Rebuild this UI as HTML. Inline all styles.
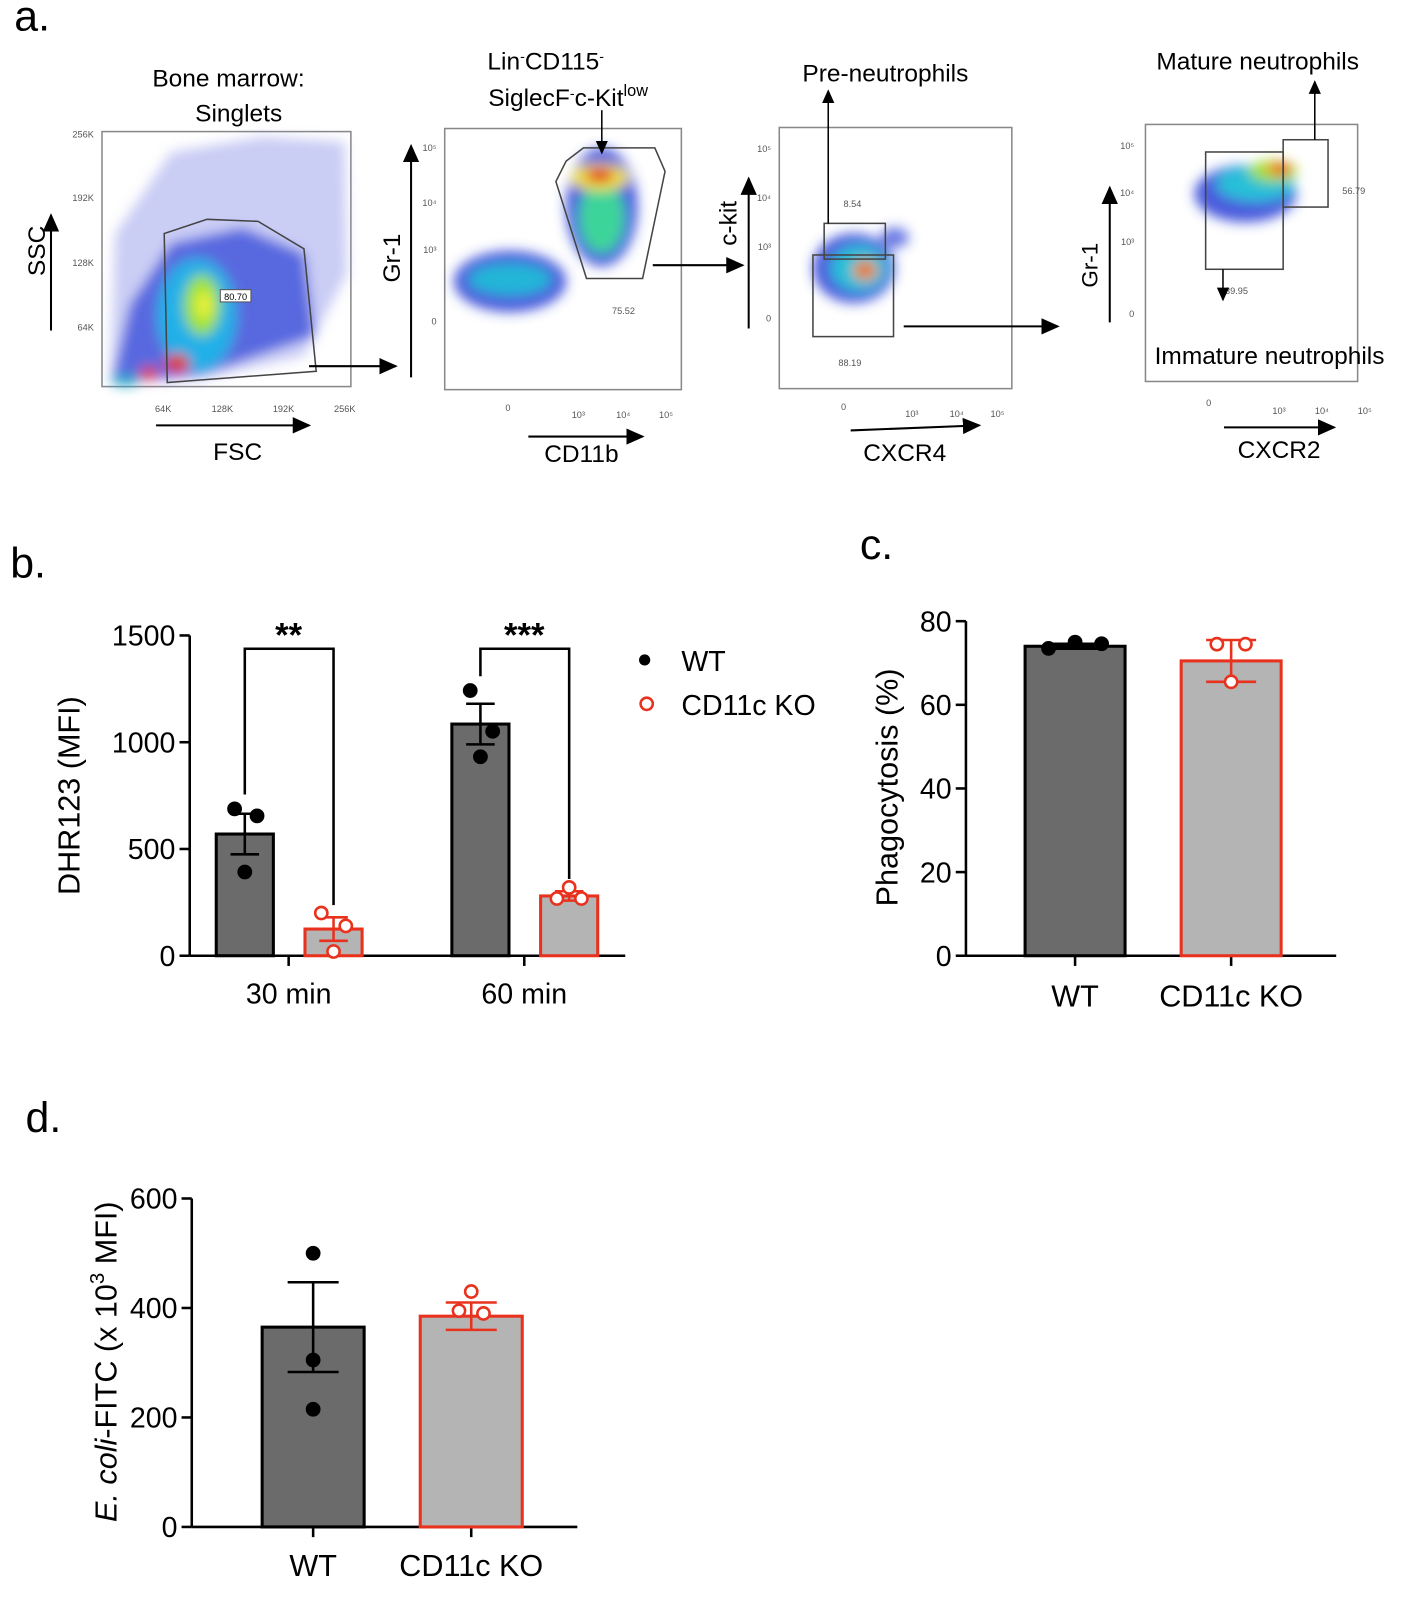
<!DOCTYPE html>
<html><head><meta charset="utf-8">
<style>
html,body{margin:0;padding:0;background:#fff;}
svg{display:block;font-family:"Liberation Sans",Arial,sans-serif;}
</style></head>
<body>
<svg id="fig" width="1423" height="1600" viewBox="0 0 1423 1600" xmlns="http://www.w3.org/2000/svg">
<defs>
<filter id="blur6" x="-50%" y="-50%" width="200%" height="200%"><feGaussianBlur stdDeviation="6"/></filter>
<marker id="arr" markerWidth="10" markerHeight="10" refX="8" refY="5" orient="auto"><path d="M0,1 L9,5 L0,9 z" fill="#000"/></marker>
</defs>
<g transform="scale(1.02)">
<!-- ===== Panel a ===== -->
<g>
<text x="14" y="30" font-size="42">a.</text>

<g transform="translate(-2,-1)">
<text x="226" y="86" font-size="24" text-anchor="middle">Bone marrow:</text>
<text x="236" y="120" font-size="24" text-anchor="middle">Singlets</text>
<rect x="102" y="130" width="244" height="250" fill="#fff" stroke="#888" stroke-width="1.5"/>
<g filter="url(#blur6)">
<path d="M110,375 L115,230 L170,150 L260,135 L340,140 L342,270 L300,350 L200,372 Z" fill="#8a90e6" opacity="0.45"/>
<path d="M112,378 L130,300 L170,240 L240,225 L300,250 L310,330 L200,368 Z" fill="#2a3fd6" opacity="0.7"/>
<ellipse cx="195" cy="310" rx="38" ry="55" fill="#22b0e8"/>
<ellipse cx="200" cy="300" rx="18" ry="30" fill="#9be23a"/>
<ellipse cx="202" cy="300" rx="8" ry="14" fill="#e9f03c"/>
<ellipse cx="176" cy="357" rx="12" ry="9" fill="#e03a1a"/>
<ellipse cx="148" cy="367" rx="9" ry="6" fill="#e03a1a"/>
<ellipse cx="125" cy="374" rx="14" ry="5" fill="#1fa6c8"/>
</g>
<path d="M166,376 L163,230 L205,216 L255,218 L300,245 L312,365 Z" fill="none" stroke="#444" stroke-width="1.5"/>
<rect x="218" y="285" width="30" height="12" fill="#fff" stroke="#555"/><text x="233" y="295" font-size="9" text-anchor="middle">80.70</text>
<g font-size="9" fill="#555" text-anchor="end"><text x="94" y="136">256K</text><text x="94" y="198">192K</text><text x="94" y="262">128K</text><text x="94" y="325">64K</text></g>
<g font-size="9" fill="#555" text-anchor="middle"><text x="162" y="405">64K</text><text x="220" y="405">128K</text><text x="280" y="405">192K</text><text x="340" y="405">256K</text></g>
<line x1="52" y1="325" x2="52" y2="212" stroke="#000" stroke-width="2" marker-end="url(#arr)"/>
<text font-size="24" transform="translate(46,247) rotate(-90)" text-anchor="middle">SSC</text>
<line x1="155" y1="418" x2="305" y2="418" stroke="#000" stroke-width="2" marker-end="url(#arr)"/>
<text x="235" y="452" font-size="24" text-anchor="middle">FSC</text>
<line x1="305" y1="360" x2="390" y2="360" stroke="#000" stroke-width="2" marker-end="url(#arr)"/>
</g>

<g transform="translate(-10,-2)">
<text x="545" y="70" font-size="24" text-anchor="middle">Lin<tspan font-size="14" dy="-8">-</tspan><tspan dy="8">CD115</tspan><tspan font-size="14" dy="-8">-</tspan></text>
<text x="567" y="106" font-size="24" text-anchor="middle">SiglecF<tspan font-size="14" dy="-8">-</tspan><tspan dy="8">c-Kit</tspan><tspan font-size="16" dy="-10">low</tspan></text>
<rect x="446" y="128" width="232" height="256" fill="#fff" stroke="#888" stroke-width="1.5"/>
<g filter="url(#blur6)">
<ellipse cx="510" cy="278" rx="55" ry="30" fill="#2a3fd6" opacity="0.85"/>
<ellipse cx="510" cy="276" rx="40" ry="15" fill="#20b6d8"/>
<ellipse cx="600" cy="205" rx="35" ry="58" fill="#2a3fd6" opacity="0.85"/>
<ellipse cx="600" cy="215" rx="22" ry="35" fill="#3dd49a"/>
<ellipse cx="598" cy="176" rx="28" ry="13" fill="#f0e23c"/>
<ellipse cx="598" cy="174" rx="14" ry="7" fill="#e02a1a"/>
</g>
<path d="M565,160 L582,147 L652,147 L662,170 L640,275 L585,275 L555,180 Z" fill="none" stroke="#444" stroke-width="1.5"/>
<text x="610" y="310" font-size="9" fill="#555">75.52</text>
<line x1="600" y1="110" x2="600" y2="152" stroke="#000" stroke-width="1.5" marker-end="url(#arr)"/>
<g font-size="9" fill="#555" text-anchor="end"><text x="438" y="150">10⁵</text><text x="438" y="204">10⁴</text><text x="438" y="250">10³</text><text x="438" y="320">0</text></g>
<g font-size="9" fill="#555" text-anchor="middle"><text x="508" y="405">0</text><text x="577" y="412">10³</text><text x="621" y="412">10⁴</text><text x="663" y="412">10⁵</text></g>
<line x1="413" y1="372" x2="413" y2="145" stroke="#000" stroke-width="2" marker-end="url(#arr)"/>
<text font-size="24" transform="translate(402,255) rotate(-90)" text-anchor="middle">Gr-1</text>
<line x1="528" y1="430" x2="640" y2="430" stroke="#000" stroke-width="2" marker-end="url(#arr)"/>
<text x="580" y="455" font-size="24" text-anchor="middle">CD11b</text>
<line x1="650" y1="262" x2="738" y2="262" stroke="#000" stroke-width="2" marker-end="url(#arr)"/>
</g>

<g transform="translate(-18,-3)">
<text x="886" y="83" font-size="24" text-anchor="middle">Pre-neutrophils</text>
<rect x="782" y="128" width="228" height="256" fill="#fff" stroke="#888" stroke-width="1.5"/>
<g filter="url(#blur6)">
<ellipse cx="855" cy="266" rx="40" ry="34" fill="#2a3fd6" opacity="0.85"/>
<ellipse cx="860" cy="266" rx="27" ry="22" fill="#25c0d8"/>
<ellipse cx="866" cy="268" rx="12" ry="10" fill="#f0a030"/>
<ellipse cx="866" cy="268" rx="6" ry="5" fill="#e02a1a"/>
<ellipse cx="895" cy="236" rx="14" ry="10" fill="#2a3fd6" opacity="0.7"/>
</g>
<rect x="826" y="222" width="60" height="35" fill="none" stroke="#444" stroke-width="1.5"/>
<rect x="815" y="253" width="79" height="80" fill="none" stroke="#444" stroke-width="1.5"/>
<text x="845" y="206" font-size="9" fill="#555">8.54</text>
<text x="840" y="362" font-size="9" fill="#555">88.19</text>
<line x1="830" y1="222" x2="830" y2="92" stroke="#000" stroke-width="1.5" marker-end="url(#arr)"/>
<g font-size="9" fill="#555" text-anchor="end"><text x="774" y="152">10⁵</text><text x="774" y="200">10⁴</text><text x="774" y="248">10³</text><text x="774" y="318">0</text></g>
<g font-size="9" fill="#555" text-anchor="middle"><text x="845" y="405">0</text><text x="912" y="412">10³</text><text x="956" y="412">10⁴</text><text x="996" y="412">10⁵</text></g>
<line x1="752" y1="325" x2="752" y2="178" stroke="#000" stroke-width="2" marker-end="url(#arr)"/>
<text font-size="24" transform="translate(740,222) rotate(-90)" text-anchor="middle">c-kit</text>
<line x1="852" y1="425" x2="978" y2="420" stroke="#000" stroke-width="2" marker-end="url(#arr)"/>
<text x="905" y="455" font-size="24" text-anchor="middle">CXCR4</text>
<line x1="904" y1="323" x2="1055" y2="323" stroke="#000" stroke-width="2" marker-end="url(#arr)"/>
</g>

<g transform="translate(-4,-2)">
<text x="1237" y="70" font-size="24" text-anchor="middle">Mature neutrophils</text>
<rect x="1127" y="124" width="208" height="252" fill="#fff" stroke="#888" stroke-width="1.5"/>
<g filter="url(#blur6)">
<ellipse cx="1225" cy="192" rx="50" ry="28" fill="#2a3fd6" opacity="0.85"/>
<ellipse cx="1235" cy="182" rx="38" ry="17" fill="#25c0d8"/>
<ellipse cx="1252" cy="170" rx="24" ry="11" fill="#9be23a"/>
<ellipse cx="1258" cy="168" rx="14" ry="7" fill="#f0a030"/>
<ellipse cx="1260" cy="167" rx="7" ry="5" fill="#e02a1a"/>
</g>
<rect x="1186" y="151" width="76" height="115" fill="none" stroke="#444" stroke-width="1.5"/>
<rect x="1262" y="139" width="44" height="66" fill="none" stroke="#444" stroke-width="1.5"/>
<text x="1320" y="192" font-size="9" fill="#555">56.79</text>
<text x="1205" y="290" font-size="9" fill="#555">39.95</text>
<line x1="1293" y1="139" x2="1293" y2="82" stroke="#000" stroke-width="1.5" marker-end="url(#arr)"/>
<line x1="1203" y1="266" x2="1203" y2="296" stroke="#000" stroke-width="1.5" marker-end="url(#arr)"/>
<text x="1136" y="359" font-size="24">Immature neutrophils</text>
<g font-size="9" fill="#555" text-anchor="end"><text x="1116" y="148">10⁵</text><text x="1116" y="194">10⁴</text><text x="1116" y="242">10³</text><text x="1116" y="313">0</text></g>
<g font-size="9" fill="#555" text-anchor="middle"><text x="1189" y="400">0</text><text x="1258" y="408">10³</text><text x="1300" y="408">10⁴</text><text x="1342" y="408">10⁵</text></g>
<line x1="1092" y1="318" x2="1092" y2="186" stroke="#000" stroke-width="2" marker-end="url(#arr)"/>
<text font-size="22" transform="translate(1080,262) rotate(-90)" text-anchor="middle">Gr-1</text>
<line x1="1204" y1="421" x2="1312" y2="421" stroke="#000" stroke-width="2" marker-end="url(#arr)"/>
<text x="1258" y="451" font-size="24" text-anchor="middle">CXCR2</text>
</g>
</g>

<text x="10" y="566" font-size="42">b.</text>
<text x="843" y="548" font-size="42">c.</text>
<text x="25" y="1110" font-size="42">d.</text>

<g id="chartB"></g>
<g id="chartC"></g>
<g id="chartD"></g>
</g>
</svg>

<script>
// ---- Data: panel b ----
const bGroups = ["30 min", "60 min"];
const bWT = [570, 1085];
const bKO = [125, 280];
const bWTerr = [95, 95];
const bKOerr = [55, 22];
const bWTpts = [[688, 655, 392], [1242, 1051, 932]];
const bKOpts = [[200, 140, 20], [320, 268, 268]];
const bTicks = [0, 500, 1000, 1500];
const bSig = ["**", "***"];
// ---- Data: panel c ----
const cCats = ["WT", "CD11c KO"];
const cVals = [74, 70.5];
const cErr = [0.6, 5];
const cPts = [[73.5, 75, 74.6], [74.5, 74.5, 65.5]];
const cTicks = [0, 20, 40, 60, 80];
// ---- Data: panel d ----
const dCats = ["WT", "CD11c KO"];
const dVals = [365, 385];
const dErr = [82, 25];
const dPts = [[500, 305, 215], [430, 395, 390]];
const dTicks = [0, 200, 400, 600];

const NS = "http://www.w3.org/2000/svg";
function mk(parent, tag, attrs, text) {
  const e = document.createElementNS(NS, tag);
  for (const k in attrs) e.setAttribute(k, attrs[k]);
  if (text !== undefined) e.textContent = text;
  parent.appendChild(e);
  return e;
}
const DARK = "#6b6b6b", LIGHT = "#b4b4b4", RED = "#e8321e";

function axisY(g, x0, yScale, ticks, x1) {
  const l = mk(g, "line", {x1: x0, y1: yScale(ticks[ticks.length-1]), x2: x0, y2: yScale(0), stroke: "#000", "stroke-width": 2.5});
  
  
  ticks.forEach(t => {
    mk(g, "line", {x1: x0 - 10, x2: x0, y1: yScale(t), y2: yScale(t), stroke: "#000", "stroke-width": 2.5});
    const tx = mk(g, "text", {x: x0 - 14, y: yScale(t) + 10, "font-size": 28, "text-anchor": "end"}, t);
    
    
  });
  const xa = mk(g, "line", {x1: x0, x2: x1, y1: yScale(0), y2: yScale(0), stroke: "#000", "stroke-width": 2.5});
  
  
}
function bar(g, cx, w, yS, v, err, pts, ko, name, jit) {
  const b = mk(g, "rect", {x: cx - w/2, y: yS(v), width: w, height: yS(0) - yS(v), fill: ko ? LIGHT : DARK, stroke: ko ? RED : "#000", "stroke-width": 3});
  
  
  const col = ko ? RED : "#000";
  const cw = w * 0.25;
  const e = mk(g, "path", {d: `M${cx},${yS(v+err)} V${yS(v-err)} M${cx-cw},${yS(v+err)} H${cx+cw} M${cx-cw},${yS(v-err)} H${cx+cw}`, stroke: col, "stroke-width": 2.5, fill: "none"});
  
  
  pts.forEach((p, i) => {
    const c = mk(g, "circle", {cx: cx + jit[i], cy: yS(p), r: 6, fill: ko ? "#fff" : "#000", stroke: col, "stroke-width": 2.5});
    
    
  });
}

// Panel b
(function(){
  const g = document.getElementById("chartB");
  const y0 = 937, yTop = 623;
  const yS = v => y0 - (v / 1500) * (y0 - yTop);
  axisY(g, 186, yS, bTicks, 613);
  const groupX = [283, 514];
  bGroups.forEach((lab, i) => {
    const cx = groupX[i];
    mk(g, "line", {x1: cx, x2: cx, y1: y0, y2: y0 + 10, stroke: "#000", "stroke-width": 2.5});
    const t = mk(g, "text", {x: cx, y: y0 + 47, "font-size": 28, "text-anchor": "middle"}, lab);
    
    
    bar(g, cx - 43, 56, yS, bWT[i], bWTerr[i], bWTpts[i], false, "bar-wt-" + i, [-10, 12, 0]);
    bar(g, cx + 44, 56, yS, bKO[i], bKOerr[i], bKOpts[i], true, "bar-ko-" + i, i ? [0, -12, 12] : [-12, 12, 0]);
    const br = mk(g, "path", {d: `M${cx-43},${yS(Math.max(...bWTpts[i]))-14} V${636} H${cx+44} V${yS(bKO[i]+bKOerr[i])-12}`, fill: "none", stroke: "#000", "stroke-width": 2.5});
    
    
    const s = mk(g, "text", {x: cx, y: 634, "font-size": 34, "font-weight": "bold", "text-anchor": "middle"}, bSig[i]);
    
    
  });
  const yl = mk(g, "text", {transform: "translate(78,780) rotate(-90)", "font-size": 30, "text-anchor": "middle"}, "DHR123 (MFI)");
  
  
  const lg = mk(g, "g", {});
  
  
  mk(lg, "circle", {cx: 632, cy: 647, r: 5.5, fill: "#000"});
  mk(lg, "text", {x: 668, y: 658, "font-size": 28}, "WT");
  mk(lg, "circle", {cx: 634, cy: 690, r: 6, fill: "#fff", stroke: RED, "stroke-width": 2.5});
  mk(lg, "text", {x: 668, y: 701, "font-size": 28}, "CD11c KO");
})();

// Panel c
(function(){
  const g = document.getElementById("chartC");
  const y0 = 937, yTop = 609;
  const yS = v => y0 - (v / 80) * (y0 - yTop);
  axisY(g, 947, yS, cTicks, 1310);
  const xs = [1054, 1207];
  cCats.forEach((lab, i) => {
    mk(g, "line", {x1: xs[i], x2: xs[i], y1: y0, y2: y0 + 10, stroke: "#000", "stroke-width": 2.5});
    const t = mk(g, "text", {x: xs[i], y: y0 + 50, "font-size": 30, "text-anchor": "middle"}, lab);
    
    
    bar(g, xs[i], 98, yS, cVals[i], cErr[i], cPts[i], i === 1, "bar-" + (i ? "ko" : "wt"), i ? [-14, 14, 0] : [-26, 0, 26]);
  });
  const yl = mk(g, "text", {transform: "translate(880,772) rotate(-90)", "font-size": 30, "text-anchor": "middle"}, "Phagocytosis (%)");
  
  
})();

// Panel d
(function(){
  const g = document.getElementById("chartD");
  const y0 = 1497, yTop = 1175;
  const yS = v => y0 - (v / 600) * (y0 - yTop);
  axisY(g, 188, yS, dTicks, 566);
  const xs = [307, 462];
  dCats.forEach((lab, i) => {
    mk(g, "line", {x1: xs[i], x2: xs[i], y1: y0, y2: y0 + 10, stroke: "#000", "stroke-width": 2.5});
    const t = mk(g, "text", {x: xs[i], y: y0 + 48, "font-size": 30, "text-anchor": "middle"}, lab);
    
    
    bar(g, xs[i], 100, yS, dVals[i], dErr[i], dPts[i], i === 1, "bar-" + (i ? "ko" : "wt"), i ? [0, -12, 12] : [0, 0, 0]);
  });
  const yl = mk(g, "text", {transform: "translate(114,1335) rotate(-90)", "font-size": 30, "text-anchor": "middle"});
  
  
  mk(yl, "tspan", {"font-style": "italic"}, "E. coli");
  mk(yl, "tspan", {}, "-FITC (x 10");
  mk(yl, "tspan", {"font-size": 20, dy: -12}, "3");
  mk(yl, "tspan", {dy: 12}, " MFI)");
})();
</script>
</body></html>
